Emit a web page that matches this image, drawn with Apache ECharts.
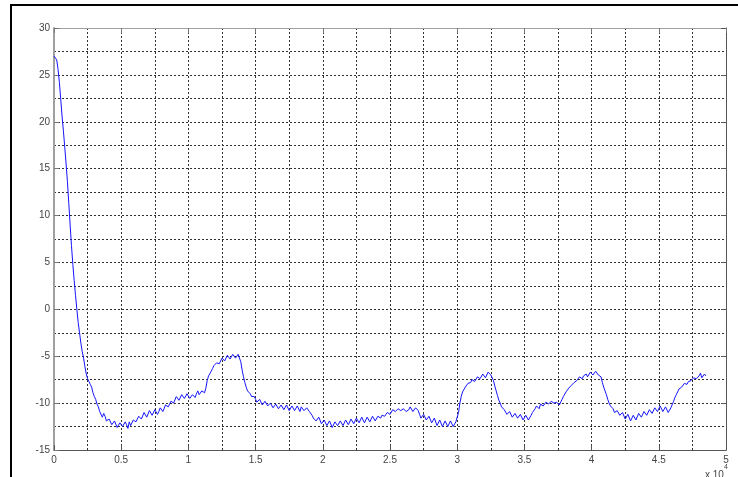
<!DOCTYPE html>
<html>
<head>
<meta charset="utf-8">
<script src="https://cdn.jsdelivr.net/npm/echarts@6/dist/echarts.min.js"></script>
<style>
  html, body { margin: 0; padding: 0; background: #fff; }
  #chart { width: 738px; height: 477px; }
</style>
</head>
<body>
<div id="chart"></div>
<script>
// Sampled signal: one value every SAMPLE_STEP units starting at SAMPLE_START
const SAMPLE_START = 0;
const SAMPLE_STEP = 100;
const signal = [
  // 0 .. 4900
  27.0, 26.9, 26.6, 25.6, 24.2, 22.4, 20.6, 19.0, 17.3, 15.5,
  13.6, 11.3, 9.0, 6.8, 4.8, 3.1, 1.5, 0.0, -1.4, -2.5,
  -3.6, -4.5, -5.2, -6.1, -6.9, -7.4, -7.7, -8.0, -8.3, -8.9,
  -9.3, -9.6, -10.1, -10.4, -10.9, -10.7, -11.5, -11.1, -11.4, -11.9,
  -12.0, -11.7, -11.9, -12.3, -12.4, -11.9, -12.1, -12.6, -12.5, -12.1,
  // 5000 .. 9900
  -12.2, -12.5, -12.6, -12.0, -12.3, -12.7, -12.0, -12.4, -12.2, -11.8,
  -11.6, -12.0, -11.8, -11.4, -11.3, -11.7, -11.5, -11.0, -11.1, -11.5,
  -11.3, -10.8, -10.9, -11.3, -11.1, -10.7, -10.8, -11.2, -10.9, -10.5,
  -10.5, -10.9, -10.7, -10.2, -10.3, -10.4, -10.1, -9.8, -9.7, -10.0,
  -9.8, -9.3, -9.4, -9.7, -9.5, -9.1, -9.2, -9.5, -9.3, -9.0,
  // 10000 .. 14900
  -9.1, -9.5, -9.4, -9.1, -9.2, -9.4, -9.0, -8.7, -9.1, -9.2,
  -8.7, -8.6, -8.9, -8.4, -7.6, -7.1, -6.9, -6.6, -6.3, -6.0,
  -5.9, -5.7, -5.5, -5.8, -5.6, -5.2, -5.2, -5.5, -5.3, -4.9,
  -5.0, -5.3, -5.1, -4.8, -4.9, -5.2, -5.0, -4.8, -4.85, -5.6,
  -6.5, -7.2, -7.8, -8.3, -8.7, -8.8, -9.0, -9.3, -9.5, -9.3,
  // 15000 .. 19900
  -9.6, -9.9, -9.9, -9.6, -9.8, -10.2, -10.1, -9.8, -10.0, -10.3,
  -10.3, -10.0, -10.1, -10.5, -10.4, -10.1, -10.2, -10.6, -10.5, -10.2,
  -10.3, -10.7, -10.6, -10.2, -10.4, -10.8, -10.6, -10.3, -10.3, -10.8,
  -10.7, -10.3, -10.5, -10.9, -10.4, -10.2, -10.8, -10.9, -10.5, -10.4,
  -10.9, -11.0, -11.3, -11.6, -11.5, -11.9, -11.8, -11.5, -11.7, -12.2,
  // 20000 .. 24900
  -12.1, -11.8, -11.9, -12.4, -12.3, -11.9, -12.1, -12.6, -12.4, -12.0,
  -12.0, -12.4, -12.3, -11.9, -12.1, -12.4, -12.2, -11.8, -11.9, -12.3,
  -12.1, -11.7, -11.8, -12.2, -12.0, -11.6, -11.7, -12.1, -11.9, -11.5,
  -11.6, -12.1, -11.9, -11.5, -11.7, -12.0, -11.9, -11.4, -11.5, -11.9,
  -11.8, -11.4, -11.6, -11.6, -11.3, -11.1, -11.4, -11.2, -11.0, -10.8,
  // 25000 .. 29900
  -11.2, -11.0, -10.7, -10.5, -10.9, -10.9, -10.6, -10.4, -10.8, -10.9,
  -10.6, -10.4, -10.9, -10.8, -10.7, -10.4, -10.5, -10.9, -10.8, -10.5,
  -10.6, -10.8, -11.2, -11.6, -11.5, -11.2, -11.4, -11.8, -11.8, -11.4,
  -11.6, -12.1, -12.0, -11.6, -11.8, -12.4, -12.3, -11.8, -12.0, -12.5,
  -12.4, -11.9, -12.1, -12.5, -12.3, -11.9, -12.0, -12.5, -12.3, -12.0,
  // 30000 .. 34900
  -12.1, -11.0, -10.0, -9.3, -8.8, -8.6, -8.3, -8.1, -7.9, -8.0,
  -7.8, -7.5, -7.4, -7.7, -7.5, -7.2, -7.1, -7.4, -7.2, -6.9,
  -6.9, -7.3, -7.1, -6.7, -6.8, -7.0, -7.2, -7.6, -8.2, -8.7,
  -9.2, -9.7, -10.0, -10.4, -10.6, -10.7, -10.9, -11.2, -11.2, -10.9,
  -11.1, -11.5, -11.4, -11.1, -11.3, -11.6, -11.5, -11.2, -11.4, -11.8,
  // 35000 .. 39900
  -11.7, -11.3, -11.5, -11.8, -11.6, -11.3, -11.0, -10.8, -10.6, -10.3,
  -10.4, -10.6, -10.1, -9.9, -10.3, -10.3, -9.9, -9.7, -10.1, -10.2,
  -9.8, -9.6, -10.0, -10.2, -9.9, -9.7, -10.2, -10.0, -9.6, -9.3,
  -9.1, -8.8, -8.7, -8.4, -8.2, -8.1, -7.9, -7.8, -7.6, -7.6,
  -7.4, -7.2, -7.3, -7.4, -7.1, -6.9, -6.9, -7.2, -7.0, -6.7,
  // 40000 .. 44900
  -6.7, -7.0, -6.9, -6.6, -6.7, -7.0, -6.8, -7.2, -7.8, -8.3,
  -8.7, -9.1, -9.6, -10.0, -10.3, -10.4, -10.6, -11.0, -11.1, -10.8,
  -10.9, -11.3, -11.4, -11.0, -11.2, -11.7, -11.7, -11.2, -11.3, -11.9,
  -11.8, -11.3, -11.4, -11.8, -11.6, -11.1, -11.2, -11.5, -11.3, -10.9,
  -10.9, -11.3, -11.1, -10.7, -10.7, -11.1, -10.9, -10.5, -10.5, -10.9,
  // 45000 .. 48500
  -10.7, -10.3, -10.4, -10.9, -10.8, -10.4, -10.5, -11.0, -10.8, -10.5,
  -10.3, -9.8, -9.4, -9.1, -8.8, -8.5, -8.4, -8.3, -8.2, -7.9,
  -7.9, -8.0, -7.7, -7.5, -7.6, -7.7, -7.3, -7.1, -7.4, -7.4,
  -7.1, -6.8, -7.3, -7.2, -6.9, -7.1
];

// Axis ranges and tick spacing
const X_MIN = 0, X_MAX = 50000, X_INTERVAL = 5000, X_SCALE = 10000;
const Y_MIN = -15, Y_MAX = 30, Y_INTERVAL = 5;

const points = signal.map((v, i) => [SAMPLE_START + i * SAMPLE_STEP, v]);

const gridDash = { color: '#303030', width: 1, type: [2, 2] };
const labelFont = { color: '#444', fontSize: 10, fontFamily: 'Liberation Sans, Arial, sans-serif' };

const chart = echarts.init(document.getElementById('chart'), null, { renderer: 'canvas' });

chart.setOption({
  backgroundColor: '#ffffff',
  animation: false,
  grid: { left: 54, right: 12, top: 28, bottom: 27, containLabel: false },
  xAxis: [
    {
      type: 'value', min: X_MIN, max: X_MAX, interval: X_INTERVAL, position: 'bottom',
      axisLine: { show: true, onZero: false, lineStyle: { color: '#555', width: 1 } },
      axisTick: { show: true, inside: true, length: 5, lineStyle: { color: '#555' } },
      axisLabel: Object.assign({ margin: 5, formatter: v => String(v / X_SCALE) }, labelFont),
      splitLine: { show: true, lineStyle: gridDash },
      minorTick: { show: false, splitNumber: 2 },
      minorSplitLine: { show: true, lineStyle: gridDash }
    },
    {
      type: 'value', min: X_MIN, max: X_MAX, interval: X_INTERVAL, position: 'top',
      axisLine: { show: true, onZero: false, lineStyle: { color: '#a0a0a0', width: 1 } },
      axisTick: { show: true, inside: true, length: 5, lineStyle: { color: '#777' } },
      axisLabel: { show: false },
      splitLine: { show: false }
    }
  ],
  yAxis: [
    {
      type: 'value', min: Y_MIN, max: Y_MAX, interval: Y_INTERVAL, position: 'left',
      axisLine: { show: true, onZero: false, lineStyle: { color: '#a0a0a0', width: 2 } },
      axisTick: { show: true, inside: true, length: 5, lineStyle: { color: '#777' } },
      axisLabel: Object.assign({ margin: 4 }, labelFont),
      splitLine: { show: true, lineStyle: gridDash },
      minorTick: { show: false, splitNumber: 2 },
      minorSplitLine: { show: true, lineStyle: gridDash }
    },
    {
      type: 'value', min: Y_MIN, max: Y_MAX, interval: Y_INTERVAL, position: 'right',
      axisLine: { show: true, onZero: false, lineStyle: { color: '#555', width: 1 } },
      axisTick: { show: true, inside: true, length: 5, lineStyle: { color: '#555' } },
      axisLabel: { show: false },
      splitLine: { show: false }
    }
  ],
  series: [
    {
      type: 'line',
      xAxisIndex: 0, yAxisIndex: 0,
      data: points,
      showSymbol: false,
      lineStyle: { color: '#1414ff', width: 1 },
      z: 5
    }
  ],
  graphic: [
    // figure frame along the top and left edges
    { type: 'line', shape: { x1: 11, y1: 5, x2: 738, y2: 5 }, style: { stroke: '#000', lineWidth: 2 } },
    { type: 'line', shape: { x1: 11, y1: 4, x2: 11, y2: 477 }, style: { stroke: '#000', lineWidth: 2 } },
    // exponent note for the x axis
    {
      type: 'text', left: 705, top: 464,
      style: {
        text: '{b|x 10}{s|4}',
        rich: {
          b: { fontSize: 10, fill: '#444', fontFamily: 'Liberation Sans, Arial, sans-serif', padding: [6, 0, 0, 0] },
          s: { fontSize: 7, fill: '#444', fontFamily: 'Liberation Sans, Arial, sans-serif', verticalAlign: 'top' }
        }
      }
    }
  ]
});
</script>
</body>
</html>
